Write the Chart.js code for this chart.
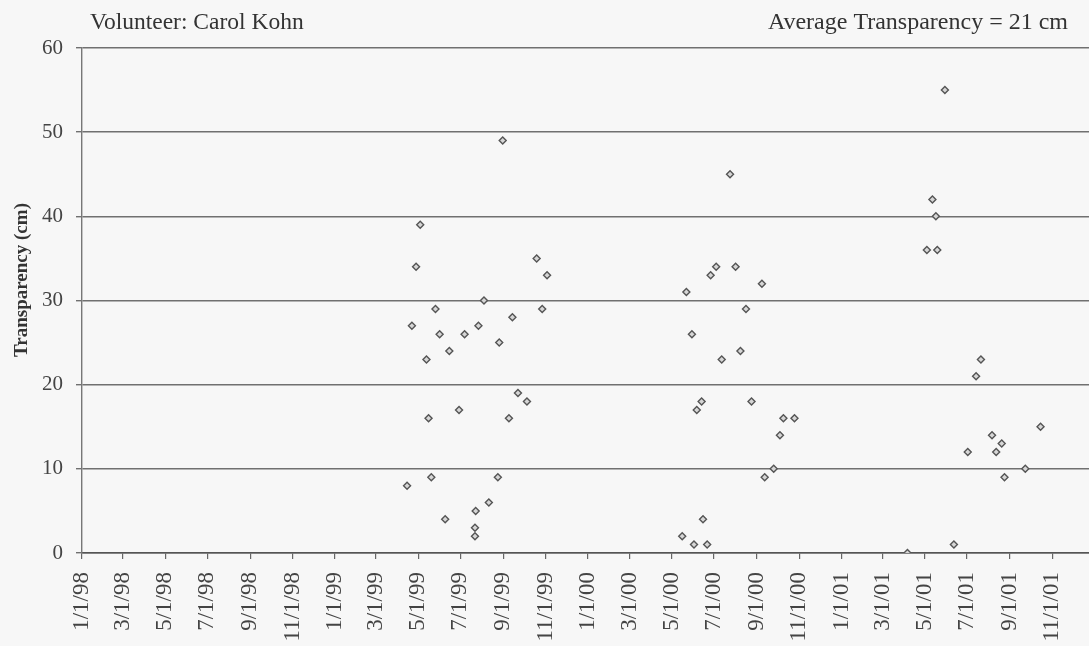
<!DOCTYPE html>
<html>
<head>
<meta charset="utf-8">
<script src="https://cdn.jsdelivr.net/npm/chart.js@4"></script>
<style>
  html, body { margin: 0; padding: 0; background: #f7f7f7; overflow: hidden; }
  #wrap { width: 1089px; height: 646px; overflow: hidden; }
</style>
</head>
<body>
<div id="wrap"><canvas id="chart" width="1100" height="646"></canvas></div>
<script>
// sampling dates (m/d/yy) and Secchi transparency readings (cm)
const sampleDates = [
  '4/15/99', '4/22/99', '4/28/99', '5/4/99', '5/13/99', '5/16/99', '5/20/99', '5/26/99',
  '6/1/99', '6/9/99', '6/15/99', '6/29/99', '7/7/99', '7/22/99', '7/22/99', '7/23/99',
  '7/27/99', '8/4/99', '8/11/99', '8/24/99', '8/26/99', '8/31/99', '9/9/99', '9/14/99',
  '9/22/99', '10/5/99', '10/19/99', '10/27/99', '11/3/99',
  '5/16/00', '5/22/00', '5/30/00', '6/2/00', '6/6/00', '6/13/00', '6/15/00', '6/21/00',
  '6/26/00', '7/4/00', '7/12/00', '7/24/00', '8/1/00', '8/8/00', '8/16/00', '8/24/00',
  '9/8/00', '9/12/00', '9/25/00', '10/4/00', '10/9/00', '10/25/00',
  '4/6/01', '5/4/01', '5/12/01', '5/17/01', '5/19/01', '5/30/01', '6/12/01', '7/2/01',
  '7/14/01', '7/21/01', '8/6/01', '8/12/01', '8/20/01', '8/24/01', '9/23/01', '10/15/01'
];
const transparency = [
  8, 27, 34, 39, 23, 16, 9, 29,
  26, 4, 24, 17, 26, 3, 2, 5,
  27, 30, 6, 9, 25, 49, 16, 28,
  19, 18, 35, 29, 33,
  2, 31, 26, 1, 17, 18, 4, 1,
  33, 34, 23, 45, 34, 24, 29, 18,
  32, 9, 10, 14, 16, 16,
  0, 36, 42, 40, 36, 55, 1, 12,
  21, 23, 14, 12, 13, 9, 10, 15
];
const xTickLabels = [
  '1/1/98', '3/1/98', '5/1/98', '7/1/98', '9/1/98', '11/1/98',
  '1/1/99', '3/1/99', '5/1/99', '7/1/99', '9/1/99', '11/1/99',
  '1/1/00', '3/1/00', '5/1/00', '7/1/00', '9/1/00', '11/1/00',
  '1/1/01', '3/1/01', '5/1/01', '7/1/01', '9/1/01', '11/1/01'
];
const yTicks = [0, 10, 20, 30, 40, 50, 60];

// m/d/yy -> UTC ms
function parseDate(s) {
  const [m, d, y] = s.split('/').map(Number);
  return Date.UTC(y < 50 ? 2000 + y : 1900 + y, m - 1, d);
}

const points = sampleDates.map((d, i) => ({ x: parseDate(d), y: transparency[i] }));
const xTickValues = xTickLabels.map(parseDate);

// header texts and the y-axis title
const extraText = {
  id: 'extraText',
  afterDraw(chart) {
    const ctx = chart.ctx;
    ctx.save();
    ctx.font = '23.5px "Liberation Serif"';
    ctx.fillStyle = '#333';
    ctx.textBaseline = 'alphabetic';
    ctx.textAlign = 'left';
    ctx.fillText('Volunteer: Carol Kohn', 90, 29);
    ctx.font = '24px "Liberation Serif"';
    ctx.textAlign = 'right';
    ctx.fillText('Average Transparency = 21 cm', 1068, 29);

    ctx.translate(22, 280);
    ctx.rotate(-Math.PI / 2);
    ctx.textAlign = 'center';
    ctx.textBaseline = 'middle';
    ctx.font = 'bold 19px "Liberation Serif"';
    ctx.fillText('Transparency (cm)', 0, 0);
    ctx.restore();
  }
};

new Chart(document.getElementById('chart'), {
  type: 'scatter',
  data: {
    datasets: [{
      data: points,
      pointStyle: 'rectRot',
      pointRadius: 3.5,
      borderWidth: 1.4,
      borderColor: '#555',
      backgroundColor: '#d6d6d6'
    }]
  },
  options: {
    responsive: false,
    animation: false,
    layout: { padding: { top: 48, right: 0, left: 0, bottom: 0 } },
    plugins: { legend: { display: false }, tooltip: { enabled: false } },
    scales: {
      x: {
        type: 'linear',
        min: parseDate('1/1/98'),
        max: parseDate('1/1/02'),
        afterBuildTicks: (scale) => { scale.ticks = xTickValues.map(v => ({ value: v })); },
        afterFit: (scale) => {
          scale.height = 93;
          scale.paddingLeft = 0;
          scale.paddingRight = 0;
        },
        grid: { drawOnChartArea: false, tickLength: 6, color: '#666', lineWidth: 1.2 },
        border: { color: '#555', width: 1.6 },
        ticks: {
          autoSkip: false,
          minRotation: 90,
          maxRotation: 90,
          padding: 13,
          color: '#444',
          font: { family: 'Liberation Serif', size: 23 },
          callback: (v, i) => xTickLabels[i]
        }
      },
      y: {
        min: 0,
        max: 60,
        afterBuildTicks: (scale) => { scale.ticks = yTicks.map(v => ({ value: v })); },
        afterFit: (scale) => { scale.width = 82; },
        grid: { color: '#707070', lineWidth: 1.4, tickLength: 6 },
        border: { color: '#777', width: 1.4 },
        ticks: {
          padding: 13,
          color: '#444',
          font: { family: 'Liberation Serif', size: 21 }
        }
      }
    }
  },
  plugins: [extraText]
});
</script>
</body>
</html>
